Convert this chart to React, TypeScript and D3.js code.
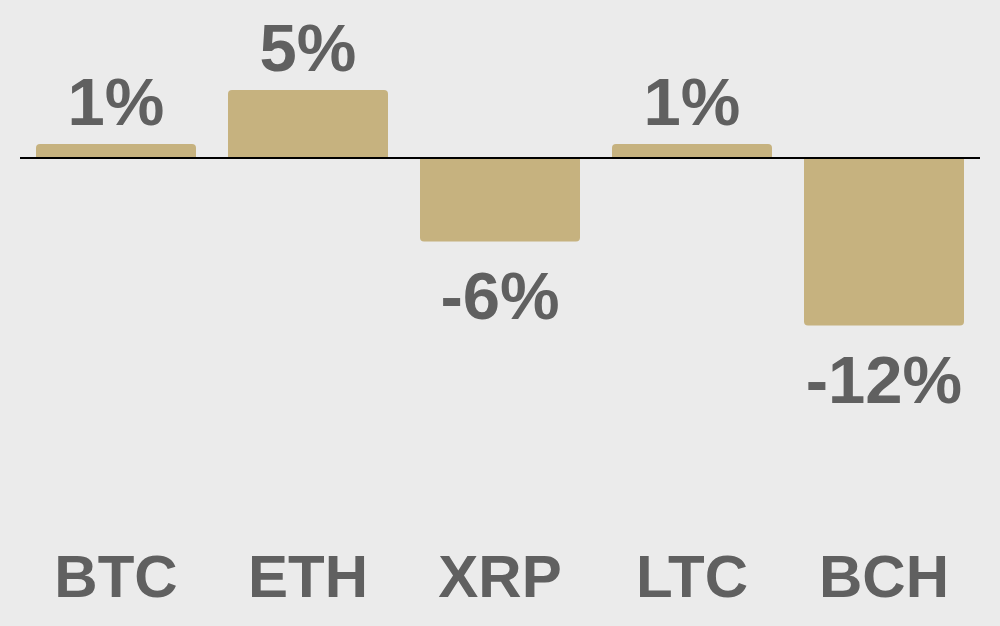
import React, { useEffect, useRef } from 'react';
import * as d3 from 'd3';

const coins = ['BTC', 'ETH', 'XRP', 'LTC', 'BCH'];
const changes = [1.0, 4.9, -6.0, 1.0, -12.05];
const labels = ['1%', '5%', '-6%', '1%', '-12%'];

const W = 1000;
const H = 626;

export default function App() {
  const svgRef = useRef<SVGSVGElement>(null);

  useEffect(() => {
    if (!svgRef.current) return;
    const svg = d3.select(svgRef.current);
    svg.selectAll('*').remove();

    svg.append('rect').attr('width', W).attr('height', H).attr('fill', '#ebebeb');

    const x = d3.scaleBand<string>()
      .domain(coins)
      .range([20, 980])
      .paddingInner(1 / 6)
      .paddingOuter(1 / 12);

    // 0 sits at y=158, ~13.9px per percent
    const y = d3.scaleLinear().domain([0, 10]).range([158, 19]);

    const r = 4;
    const barPath = (x0: number, w: number, v: number) => {
      const y0 = y(0);
      const y1 = y(v);
      const dir = v >= 0 ? -1 : 1;
      const h = Math.abs(y1 - y0);
      const rr = Math.min(r, h / 2, w / 2);
      const p = d3.path();
      p.moveTo(x0, y0);
      p.lineTo(x0, y1 - dir * rr);
      p.quadraticCurveTo(x0, y1, x0 + rr, y1);
      p.lineTo(x0 + w - rr, y1);
      p.quadraticCurveTo(x0 + w, y1, x0 + w, y1 - dir * rr);
      p.lineTo(x0 + w, y0);
      p.closePath();
      return p.toString();
    };

    coins.forEach((c, i) => {
      const v = changes[i];
      svg.append('path')
        .attr('d', barPath(x(c)!, x.bandwidth(), v))
        .attr('fill', '#c6b27f');

      svg.append('text')
        .attr('x', x(c)! + x.bandwidth() / 2)
        .attr('y', v >= 0 ? y(v) - 19 : y(v) + 78)
        .attr('text-anchor', 'middle')
        .attr('font-family', '"Liberation Sans", Arial, sans-serif')
        .attr('font-weight', 'bold')
        .attr('font-size', 67)
        .attr('fill', '#606060')
        .text(labels[i]);

      svg.append('text')
        .attr('x', x(c)! + x.bandwidth() / 2)
        .attr('y', 597)
        .attr('text-anchor', 'middle')
        .attr('font-family', '"Liberation Sans", Arial, sans-serif')
        .attr('font-weight', 'bold')
        .attr('font-size', 60)
        .attr('fill', '#606060')
        .text(c);
    });

    svg.append('line')
      .attr('x1', 20)
      .attr('x2', 980)
      .attr('y1', y(0))
      .attr('y2', y(0))
      .attr('stroke', '#000')
      .attr('stroke-width', 2);
  }, []);

  return (
    <svg
      ref={svgRef}
      width={W}
      height={H}
      style={{ display: 'block', position: 'absolute', left: 0, top: 0 }}
    />
  );
}
